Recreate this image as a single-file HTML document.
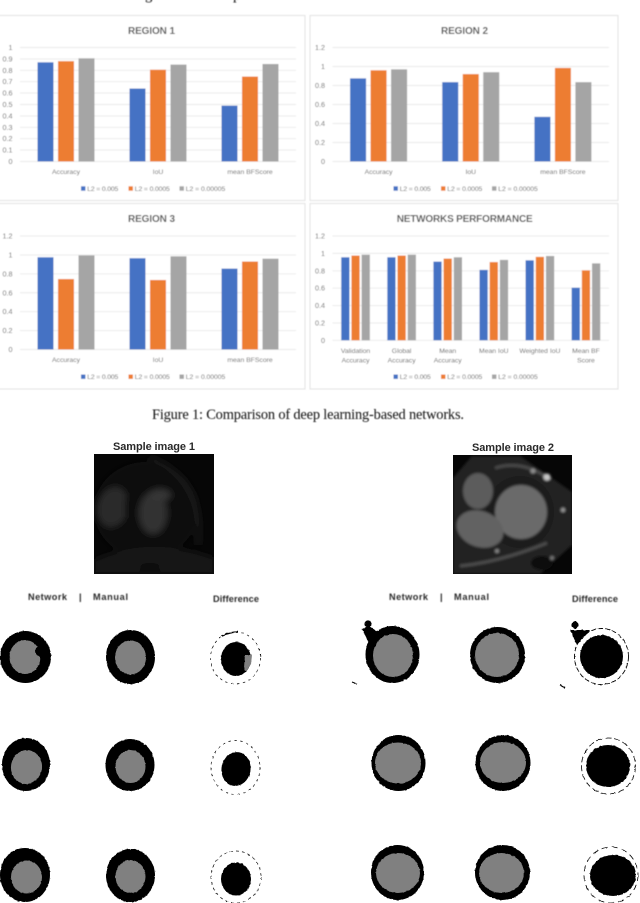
<!DOCTYPE html>
<html lang="en">
<head>
<meta charset="utf-8">
<title>Comparison of deep learning-based networks</title>
<style>
html,body{margin:0;padding:0;background:#fff;width:640px;height:903px;overflow:hidden}
svg{position:absolute;left:0;top:0;display:block}
.serif{font-family:"Liberation Serif",serif;fill:#111}
.bold{font-family:"Liberation Sans",sans-serif;font-weight:bold;fill:#2a2a2a}
</style>
</head>
<body>
<svg id="page" width="640" height="903" viewBox="0 0 640 903" xmlns="http://www.w3.org/2000/svg">
<defs>
<filter id="soft" x="-2%" y="-2%" width="104%" height="104%"><feGaussianBlur stdDeviation="0.45"/></filter>
<filter id="mriblur" x="-30%" y="-30%" width="160%" height="160%"><feGaussianBlur stdDeviation="3.2"/></filter>
<filter id="mriblur2" x="-30%" y="-30%" width="160%" height="160%"><feGaussianBlur stdDeviation="1.3"/></filter>
<filter id="rough" filterUnits="userSpaceOnUse" x="0" y="600" width="640" height="303">
<feTurbulence type="fractalNoise" baseFrequency="0.35" numOctaves="2" seed="4" result="n"/>
<feDisplacementMap in="SourceGraphic" in2="n" scale="1.6" xChannelSelector="R" yChannelSelector="G"/>
<feGaussianBlur stdDeviation="0.35"/>
</filter>
<clipPath id="clip1"><rect x="94" y="454" width="120" height="120"/></clipPath>
<clipPath id="clip2"><rect x="453" y="455" width="119" height="119"/></clipPath>
</defs>

<g class="serif" font-size="14.7" filter="url(#soft)">
<text x="145" y="-0.6">g</text>
<text x="233" y="-0.6">p</text>
</g>

<g id="charts" filter="url(#soft)"></g>

<g filter="url(#soft)">
<text x="152" y="419" class="serif" font-size="14.4" textLength="312">Figure 1: Comparison of deep learning-based networks.</text>
</g>

<g>
<text x="113" y="450" class="bold" font-size="11" textLength="82">Sample image 1</text>
<g clip-path="url(#clip1)">
<rect x="94" y="454" width="120" height="120" fill="#060606"/>
<g filter="url(#mriblur)">
<ellipse cx="146" cy="510" rx="52" ry="48" fill="#111"/>
<path d="M150 458 Q205 480 198 545" fill="none" stroke="#1a1a1a" stroke-width="4"/>
<ellipse cx="113" cy="507" rx="15" ry="20" fill="#2b2b2b" transform="rotate(15 113 507)"/>
<ellipse cx="153" cy="513" rx="14" ry="21" fill="#333"/>
<ellipse cx="160" cy="495" rx="11" ry="6" fill="#363636"/>
<ellipse cx="130" cy="510" rx="5" ry="24" fill="#090909"/>
<path d="M94 560 Q150 535 214 558 L214 574 L94 574 Z" fill="#191919"/>
<ellipse cx="150" cy="567" rx="11" ry="4" fill="#080808"/>
</g>
</g>
</g>

<g>
<text x="472" y="451" class="bold" font-size="11" textLength="82">Sample image 2</text>
<g clip-path="url(#clip2)">
<rect x="453" y="455" width="119" height="119" fill="#060606"/>
<g filter="url(#mriblur2)">
<path d="M453 478 L472 456 L520 456 L572 492 L572 545 L540 574 L453 574 Z" fill="#222"/>
<ellipse cx="520" cy="512" rx="34" ry="36" fill="#1a1a1a"/>
<ellipse cx="521" cy="512" rx="26" ry="27" fill="#6a6a6a"/>
<ellipse cx="478" cy="491" rx="15" ry="18" fill="#5c5c5c"/>
<ellipse cx="480" cy="529" rx="24" ry="18" fill="#626262" transform="rotate(20 480 529)"/>
<path d="M495 468 Q520 460 545 476" fill="none" stroke="#4a4a4a" stroke-width="3"/>
<circle cx="547" cy="477" r="3.5" fill="#c8c8c8"/>
<circle cx="533" cy="471" r="2.5" fill="#909090"/>
<circle cx="563" cy="510" r="2.2" fill="#999"/>
<circle cx="497" cy="551" r="2" fill="#888"/>
<path d="M460 566 Q500 562 547 543" fill="none" stroke="#4e4e4e" stroke-width="3"/>
<ellipse cx="542" cy="563" rx="11" ry="7" fill="#0b0b0b"/>
<circle cx="552" cy="558" r="2" fill="#777"/>
</g>
</g>
</g>

<g class="bold" font-size="9.2" filter="url(#soft)">
<text x="28" y="600" textLength="39">Network</text>
<text x="79" y="600">|</text>
<text x="93" y="600" textLength="35">Manual</text>
<text x="213" y="602" textLength="46">Difference</text>
<text x="389" y="600" textLength="39">Network</text>
<text x="440" y="600">|</text>
<text x="454" y="600" textLength="35">Manual</text>
<text x="572" y="602" textLength="46">Difference</text>
</g>

<g filter="url(#rough)">
<!-- left sample, row 1 -->
<g>
<ellipse cx="25.5" cy="657" rx="25.5" ry="26" fill="#000"/><ellipse cx="25" cy="657" rx="15.5" ry="17" fill="#808080"/><ellipse cx="42" cy="651" rx="7" ry="6" fill="#000"/>
</g>
<g>
<ellipse cx="130.5" cy="657" rx="24.5" ry="27" fill="#000"/><ellipse cx="130.5" cy="657.5" rx="15.5" ry="17" fill="#808080"/>
</g>
<g>
<ellipse cx="235.5" cy="658" rx="25" ry="26" fill="none" stroke="#000" stroke-width="0.7" stroke-dasharray="2.5 3.5"/><path d="M222 636 Q230 632 238 632" fill="none" stroke="#000" stroke-width="1.6"/><ellipse cx="236" cy="659" rx="15" ry="17" fill="#000"/><path d="M245 655 L252 655 L251 664 L246 672 L244 668 Z" fill="#808080"/>
</g>
<!-- right sample, row 1 -->
<g>
<ellipse cx="392.5" cy="654.5" rx="27" ry="28.5" fill="#000"/><circle cx="368" cy="624" r="3.6" fill="#000"/><path d="M362 629 L369 626 L378 632 L370 645 Z" fill="#000"/><path d="M352 682 L357 684" stroke="#000" stroke-width="1.2"/><ellipse cx="393" cy="655.5" rx="20" ry="21.5" fill="#808080"/>
</g>
<g>
<ellipse cx="497.5" cy="655" rx="27.5" ry="28" fill="#000"/><ellipse cx="497" cy="655" rx="22" ry="22" fill="#808080"/>
</g>
<g>
<ellipse cx="601.5" cy="656.5" rx="27" ry="28" fill="none" stroke="#000" stroke-width="0.9" stroke-dasharray="5 2"/><circle cx="575" cy="625" r="3.6" fill="#000"/><path d="M570 630 L590 630 L577 645 Z" fill="#000"/><path d="M560 685 L565 688" stroke="#000" stroke-width="1.2"/><ellipse cx="601.5" cy="656.5" rx="21.5" ry="21.5" fill="#000"/>
</g>
<!-- left sample, row 2 -->
<g>
<ellipse cx="26" cy="764.5" rx="24" ry="26.5" fill="#000"/><ellipse cx="26.5" cy="767" rx="15.5" ry="17" fill="#808080" transform="rotate(10 26.5 767)"/>
</g>
<g>
<ellipse cx="130" cy="765" rx="24.5" ry="26" fill="#000"/><ellipse cx="130.5" cy="766.5" rx="15" ry="16.5" fill="#808080"/>
</g>
<g>
<ellipse cx="235.5" cy="767.5" rx="24.5" ry="27" fill="none" stroke="#000" stroke-width="0.7" stroke-dasharray="2.5 3.5"/><ellipse cx="236" cy="769" rx="14.5" ry="17" fill="#000" transform="rotate(10 236 769)"/>
</g>
<!-- right sample, row 2 -->
<g>
<ellipse cx="398.5" cy="763" rx="27" ry="28" fill="#000"/><ellipse cx="398" cy="763" rx="23" ry="20.5" fill="#808080"/>
</g>
<g>
<ellipse cx="503" cy="763" rx="27.5" ry="28" fill="#000"/><ellipse cx="503" cy="762.5" rx="23" ry="20.5" fill="#808080"/>
</g>
<g>
<ellipse cx="608.5" cy="766" rx="27" ry="28" fill="none" stroke="#000" stroke-width="0.8" stroke-dasharray="6 3"/><ellipse cx="608" cy="766" rx="22" ry="21" fill="#000"/>
</g>
<!-- left sample, row 3 -->
<g>
<ellipse cx="25" cy="875" rx="25" ry="27" fill="#000"/><ellipse cx="26.5" cy="877" rx="15.5" ry="16.5" fill="#808080"/>
</g>
<g>
<ellipse cx="130.5" cy="875.5" rx="24.5" ry="26.5" fill="#000"/><ellipse cx="130.5" cy="876.5" rx="15" ry="16.5" fill="#808080"/>
</g>
<g>
<ellipse cx="236" cy="877" rx="25" ry="26" fill="none" stroke="#000" stroke-width="0.7" stroke-dasharray="3 3"/><ellipse cx="236" cy="879" rx="15" ry="16.5" fill="#000"/>
</g>
<!-- right sample, row 3 -->
<g>
<ellipse cx="397.5" cy="872.5" rx="26.5" ry="27.5" fill="#000"/><ellipse cx="398" cy="873" rx="22" ry="20" fill="#808080"/>
</g>
<g>
<ellipse cx="502.5" cy="872.5" rx="27.5" ry="27.5" fill="#000"/><ellipse cx="501.5" cy="873" rx="22.5" ry="20" fill="#808080"/>
</g>
<g>
<ellipse cx="611" cy="875" rx="27" ry="28" fill="none" stroke="#000" stroke-width="0.8" stroke-dasharray="6 4"/><ellipse cx="613" cy="875.5" rx="23" ry="20.5" fill="#000"/>
</g>
</g>
</svg>

<script>
const seriesNames = ["L2 = 0.005", "L2 = 0.0005", "L2 = 0.00005"];
const seriesColors = ["#4472c4", "#ed7d31", "#a5a5a5"];

const regionCategories = ["Accuracy", "IoU", "mean BFScore"];
const networkCategories = [["Validation", "Accuracy"], ["Global", "Accuracy"], ["Mean", "Accuracy"], ["Mean IoU"], ["Weighted IoU"], ["Mean BF", "Score"]];

const ticksTenths = ["0", "0.1", "0.2", "0.3", "0.4", "0.5", "0.6", "0.7", "0.8", "0.9", "1"];
const ticksFifths = ["0", "0.2", "0.4", "0.6", "0.8", "1", "1.2"];

const region1Values = [[0.87, 0.64, 0.49], [0.88, 0.805, 0.745], [0.905, 0.85, 0.855]];
const region2Values = [[0.875, 0.835, 0.47], [0.96, 0.92, 0.985], [0.97, 0.94, 0.835]];
const region3Values = [[0.975, 0.965, 0.855], [0.745, 0.735, 0.93], [0.995, 0.985, 0.96]];
const networkValues = [[0.955, 0.955, 0.905, 0.81, 0.92, 0.605], [0.975, 0.975, 0.94, 0.9, 0.96, 0.805], [0.985, 0.985, 0.955, 0.925, 0.97, 0.885]];

const NS = "http://www.w3.org/2000/svg";
const SANS = '"Liberation Sans", sans-serif';

function make(parent, tag, attrs, text) {
  const el = document.createElementNS(NS, tag);
  for (const k in attrs) el.setAttribute(k, attrs[k]);
  if (text !== undefined) el.textContent = text;
  parent.appendChild(el);
  return el;
}

function drawChart(root, cfg) {
  const g = make(root, "g", {});
  
  

  const panel = make(g, "rect", { x: cfg.panelX, y: cfg.panelY, width: cfg.panelW, height: cfg.panelH, fill: "#fff", stroke: "#e6e6e6", "stroke-width": 1.2 });
  
  

  const title = make(g, "text", { x: cfg.panelX + cfg.panelW / 2 + cfg.titleDx, y: cfg.titleY, "text-anchor": "middle", "font-family": SANS, "font-weight": "bold", "font-size": 10, fill: "#595959", textLength: cfg.titleW }, cfg.title);
  
  

  const n = cfg.ticks.length - 1;
  const yMax = parseFloat(cfg.ticks[n]);
  const yScale = v => cfg.y0 - (v / yMax) * (cfg.y0 - cfg.yTop);
  const bandW = (cfg.x1 - cfg.x0) / cfg.categories.length;
  const xCenter = i => cfg.x0 + bandW * (i + 0.5);

  cfg.ticks.forEach((t, i) => {
    const v = parseFloat(t);
    const line = make(g, "line", { x1: cfg.x0, x2: cfg.x1, y1: yScale(v), y2: yScale(v), stroke: "#e9e9e9", "stroke-width": 0.9 });
    
    
    const lab = make(g, "text", { x: cfg.x0 - 7.5, y: yScale(v) + 2.5, "text-anchor": "end", "font-family": SANS, "font-size": 7.2, fill: "#666" }, t);
    
    
  });

  cfg.values.forEach((series, s) => {
    series.forEach((v, i) => {
      const cx = xCenter(i) + (s - 1) * (cfg.barW + cfg.barGap);
      const bar = make(g, "rect", { x: cx - cfg.barW / 2, y: yScale(v), width: cfg.barW, height: yScale(0) - yScale(v), fill: seriesColors[s] });
      
      
    });
  });

  cfg.categories.forEach((c, i) => {
    const lines = Array.isArray(c) ? c : [c];
    lines.forEach((txt, k) => {
      const lab = make(g, "text", { x: xCenter(i), y: cfg.y0 + 12.5 + k * 9.5, "text-anchor": "middle", "font-family": SANS, "font-size": 6.8, fill: "#666" }, txt);
      
      
    });
  });

  const legendOffsets = [61, 108.5, 159.5];
  const legendWidths = [31, 35, 39.5];
  seriesNames.forEach((name, s) => {
    const lx = cfg.x0 + legendOffsets[s];
    const sw = make(g, "rect", { x: lx, y: cfg.legendY - 2.2, width: 4.4, height: 4.4, fill: seriesColors[s] });
    
    
    const lt = make(g, "text", { x: lx + 6.3, y: cfg.legendY + 2.4, "font-family": SANS, "font-size": 6.8, fill: "#666", textLength: legendWidths[s] }, name);
    
    
  });
}

const chartsRoot = document.getElementById("charts");

drawChart(chartsRoot, { slug: "region-1", title: "REGION 1", titleW: 47, titleY: 34, titleDx: 0.5,
  panelX: -3, panelY: 15.5, panelW: 308, panelH: 185,
  x0: 20, x1: 296, y0: 161.5, yTop: 47.5, barW: 16, barGap: 4.5, legendY: 188.5,
  categories: regionCategories, ticks: ticksTenths, values: region1Values });

drawChart(chartsRoot, { slug: "region-2", title: "REGION 2", titleW: 47, titleY: 34, titleDx: 0.5,
  panelX: 310, panelY: 15.5, panelW: 308, panelH: 185,
  x0: 332.5, x1: 609, y0: 161.5, yTop: 47.5, barW: 16, barGap: 4.5, legendY: 188.5,
  categories: regionCategories, ticks: ticksFifths, values: region2Values });

drawChart(chartsRoot, { slug: "region-3", title: "REGION 3", titleW: 47, titleY: 222, titleDx: 0.5,
  panelX: -3, panelY: 203.5, panelW: 308, panelH: 185.5,
  x0: 20, x1: 296, y0: 349.5, yTop: 236, barW: 16, barGap: 4.5, legendY: 376.7,
  categories: regionCategories, ticks: ticksFifths, values: region3Values });

drawChart(chartsRoot, { slug: "networks-performance", title: "NETWORKS PERFORMANCE", titleW: 136, titleY: 222, titleDx: 0.7,
  panelX: 310, panelY: 203.5, panelW: 308, panelH: 185.5,
  x0: 332.5, x1: 609, y0: 340.3, yTop: 236, barW: 8.2, barGap: 2, legendY: 376.7,
  categories: networkCategories, ticks: ticksFifths, values: networkValues });
</script>
</body>
</html>
